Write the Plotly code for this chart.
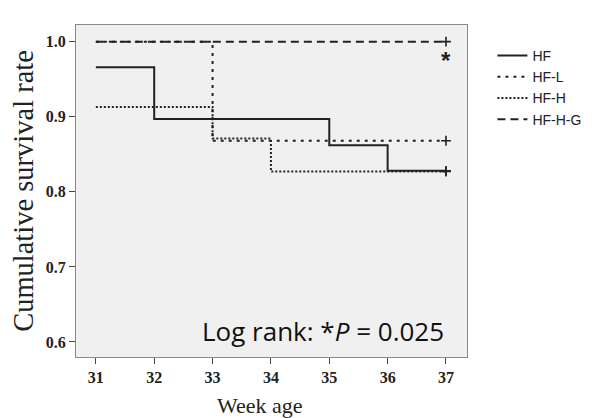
import plotly.graph_objects as go

weeks = [31, 32, 33, 34, 35, 36, 37]
hf = [0.966, 0.897, 0.897, 0.897, 0.862, 0.828, 0.828]
hf_l = [1.0, 1.0, 0.868, 0.868, 0.868, 0.868, 0.868]
hf_h = [0.913, 0.913, 0.871, 0.827, 0.827, 0.827, 0.827]
hf_hg = [1.0, 1.0, 1.0, 1.0, 1.0, 1.0, 1.0]
names = ["HF", "HF-L", "HF-H", "HF-H-G"]
series = [hf, hf_l, hf_h, hf_hg]
dashes = ["solid", "3px,5px", "2px,2px", "8px,5px"]

# page body has an 8px margin, so the figure is drawn 8px in from the window corner
W, H = 590, 410
L, R, T, B = 68, 131, 17, 61
pw, ph = W - L - R, H - T - B

fig = go.Figure()
for name, ys, d in zip(names, series, dashes):
    fig.add_trace(go.Scatter(x=weeks, y=ys, mode="lines", name=name, line_shape="hv",
                             line=dict(color="#222222", width=2, dash=d)))
for ys in series:
    fig.add_trace(go.Scatter(x=[weeks[-1]], y=[ys[-1]], mode="markers", showlegend=False,
                             marker=dict(symbol="cross-thin", size=7,
                                         line=dict(color="#222222", width=1.6))))

fig.add_annotation(x=37, y=0.975, text="<b>*</b>", showarrow=False, xref="x", yref="y",
                   font=dict(family="Liberation Sans", size=24, color="#222"))
fig.add_annotation(x=37, y=0.615, xanchor="right", text="Log rank: *<i>P</i> = 0.025", showarrow=False,
                   xref="x", yref="y", font=dict(family="Open Sans", size=26, color="#111"))
fig.add_annotation(x=(252 - L) / pw, y=-(397 - (H - B)) / ph, xref="paper", yref="paper",
                   xanchor="center", yanchor="middle", text="Week age", showarrow=False,
                   font=dict(family="Liberation Serif", size=22, color="#222"))

fig.update_layout(
    width=W, height=H,
    margin=dict(l=L, r=R, t=T, b=B, autoexpand=False),
    paper_bgcolor="white", plot_bgcolor="#f0f0f0",
    font=dict(family="Liberation Serif", color="#222"),
    legend=dict(x=1.065, y=0.955, xanchor="left", yanchor="top", bgcolor="rgba(0,0,0,0)",
                font=dict(family="Liberation Sans", size=14, color="#222"),
                tracegroupgap=0, itemwidth=30),
)

fig.update_xaxes(range=[30.66, 37.36], tickvals=weeks, showgrid=False, zeroline=False,
                 automargin=False,
                 ticks="outside", ticklen=6, tickcolor="#444", showline=True, linecolor="#888",
                 mirror=True, tickfont=dict(size=16, family="Liberation Serif", weight="bold"))
fig.update_yaxes(range=[0.58, 1.0222], tickvals=[0.6, 0.7, 0.8, 0.9, 1.0], ticktext=["0.6", "0.7", "0.8", "0.9", "1.0"],
                 showgrid=False, zeroline=False, automargin=False,
                 ticks="outside", ticklen=6, tickcolor="#444", showline=True, linecolor="#888",
                 mirror=True, tickfont=dict(size=16, family="Liberation Serif", weight="bold"),
                 title=dict(text="Cumulative survival rate", font=dict(size=28.5), standoff=4))
fig.write_html("out.html")
